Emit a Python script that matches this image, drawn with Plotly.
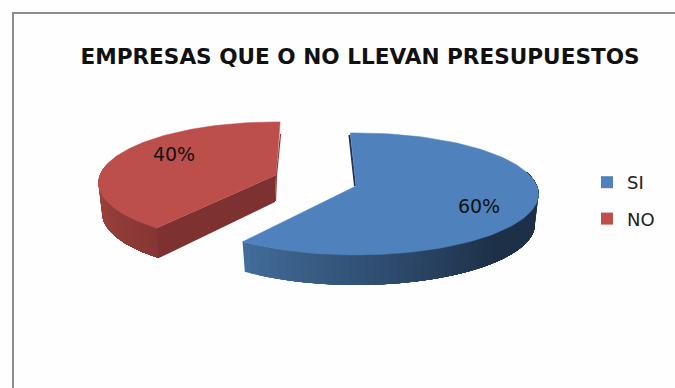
import numpy as np
import plotly.graph_objects as go

# Survey shares, percent
categories = ["SI", "NO"]
shares = [60, 40]
slice_colors = ["#4f81bd", "#bc4f4c"]
title_text = "EMPRESAS QUE O NO LLEVAN PRESUPUESTOS"

# Page-pixel geometry of the tilted, exploded pie
CENTERS = {"SI": (356, 186), "NO": (276, 175)}
RADII_X = {"SI": 181, "NO": 176}
# Rear rim leans toward the vanishing point, so each slice turns slightly
ROTATIONS = {"SI": -2.0, "NO": 1.5}
RY = 60
PERSPECTIVE = 0.13
DEPTH = 30


def project(name, angle_deg, lower=False):
    """Map clock angles on a slice's disc to page pixels, with mild perspective."""
    cx, cy = CENTERS[name]
    a = np.radians(np.asarray(angle_deg, dtype=float) + ROTATIONS[name])
    u, v = np.sin(a), -np.cos(a)
    f = 1 / (1 - PERSPECTIVE * v)
    s = 0.98 if lower else 1.0
    return cx + RADII_X[name] * u * f * s, cy + RY * v * f + (DEPTH if lower else 0)


def mix(c0, c1, t):
    rgb = [round(a + (b - a) * t) for a, b in zip(c0, c1)]
    return f"rgb({rgb[0]},{rgb[1]},{rgb[2]})"


def polygon(xs, ys, color, width=0.0):
    return go.Scatter(x=list(xs), y=list(ys), mode="lines", fill="toself", fillcolor=color,
                      line=dict(width=width, color=color), hoverinfo="skip",
                      showlegend=False)


def stroke(xs, ys, color, width):
    return go.Scatter(x=xs, y=ys, mode="lines", line=dict(width=width, color=color),
                      hoverinfo="skip", showlegend=False)


# Clock-angle spans for each slice, going clockwise from 12 o'clock
cumulative = np.cumsum([0] + shares) / sum(shares) * 360
spans = {c: (cumulative[i], cumulative[i + 1]) for i, c in enumerate(categories)}

fig = go.Figure()

# Outer wall shading (left end, right end) and how quickly it reaches the dark end
wall_shades = {"NO": ((172, 72, 66), (134, 54, 52), 1.0),
               "SI": ((66, 108, 154), (29, 48, 72), 1.8)}

for name, color in [("NO", slice_colors[1]), ("SI", slice_colors[0])]:
    cx, cy = CENTERS[name]
    start, end = spans[name]
    # Only the part of the rim facing the viewer shows a wall
    lo, hi = max(start, 78), min(end, 282)
    c_left, c_right, rate = wall_shades[name]
    # Overlapping bands, painted left to right, keep the gradient free of seams
    for edge in np.linspace(hi, lo, 61)[:-1]:
        seg = np.linspace(edge, lo, 60)
        xt, yt = project(name, seg)
        xb, yb = project(name, seg[::-1], lower=True)
        t = min(1.0, rate * (hi - edge) / (hi - lo))
        fig.add_trace(polygon(np.r_[xt, xb], np.r_[yt, yb], mix(c_left, c_right, t)))

    if name == "NO":
        # Cut face along the front edge of the slice
        rx0, ry0 = project(name, start)
        rx1, ry1 = project(name, start, lower=True)
        fig.add_trace(polygon([cx, rx0, rx1, cx - 1], [cy, ry0, ry1, cy + DEPTH - 3], "#7d3130"))
        back_x, back_y = project(name, 360)
        fig.add_trace(stroke([back_x + 0.5, cx + 0.5, cx - 0.5], [back_y + 12, cy, cy + 26],
                             "#8c3b38", 1.2))
    else:
        # Sliver of the rear cut face, just visible beside the start edge
        back_x, back_y = project(name, 0)
        fig.add_trace(stroke([back_x - 1, cx - 1], [back_y + 2, cy], "#1f3550", 2))

    # Top surface of the slice
    theta = np.linspace(start, end, 120)
    xa, ya = project(name, theta)
    fig.add_trace(polygon(np.r_[cx, xa, cx], np.r_[cy, ya, cy], color, width=0.5))

# Percentage labels on the slices
label_positions = {"SI": (479, 208), "NO": (174, 156)}
for name, share in zip(categories, shares):
    x, y = label_positions[name]
    fig.add_trace(go.Scatter(x=[x], y=[y], mode="text", text=[f"{share}%"],
                             textposition="middle center",
                             textfont=dict(family="DejaVu Sans", size=19, color="#111111"),
                             hoverinfo="skip", showlegend=False))

# Legend entries, one group each so the gap between them can be widened
for name, color in zip(categories, slice_colors):
    fig.add_trace(go.Scatter(x=[None], y=[None], mode="markers", name=name, legendgroup=name,
                             marker=dict(symbol="square", size=12, color=color)))

fig.update_layout(
    width=675, height=388,
    margin=dict(l=0, r=0, t=0, b=0),
    paper_bgcolor="#fefefe", plot_bgcolor="#fefefe",
    xaxis=dict(range=[0, 675], visible=False, fixedrange=True),
    yaxis=dict(range=[388, 0], visible=False, fixedrange=True),
    title=dict(text=f"<b>{title_text}</b>", x=360 / 675, xanchor="center",
               y=1 - 56 / 388, yanchor="middle",
               font=dict(family="DejaVu Sans", size=21.6, color="#111111")),
    legend=dict(x=593 / 675, xanchor="left", y=1 - 200.5 / 388, yanchor="middle",
                indentation=-6, tracegroupgap=10, itemwidth=30,
                bgcolor="rgba(0,0,0,0)",
                font=dict(family="DejaVu Sans", size=18, color="#222222")),
    shapes=[
        dict(type="line", xref="x", yref="y", x0=13, x1=13, y0=13, y1=388,
             line=dict(color="#8c8c8c", width=2)),
        dict(type="line", xref="x", yref="y", x0=12, x1=675, y0=13, y1=13,
             line=dict(color="#8c8c8c", width=2)),
    ],
)

fig.write_html("out.html")
